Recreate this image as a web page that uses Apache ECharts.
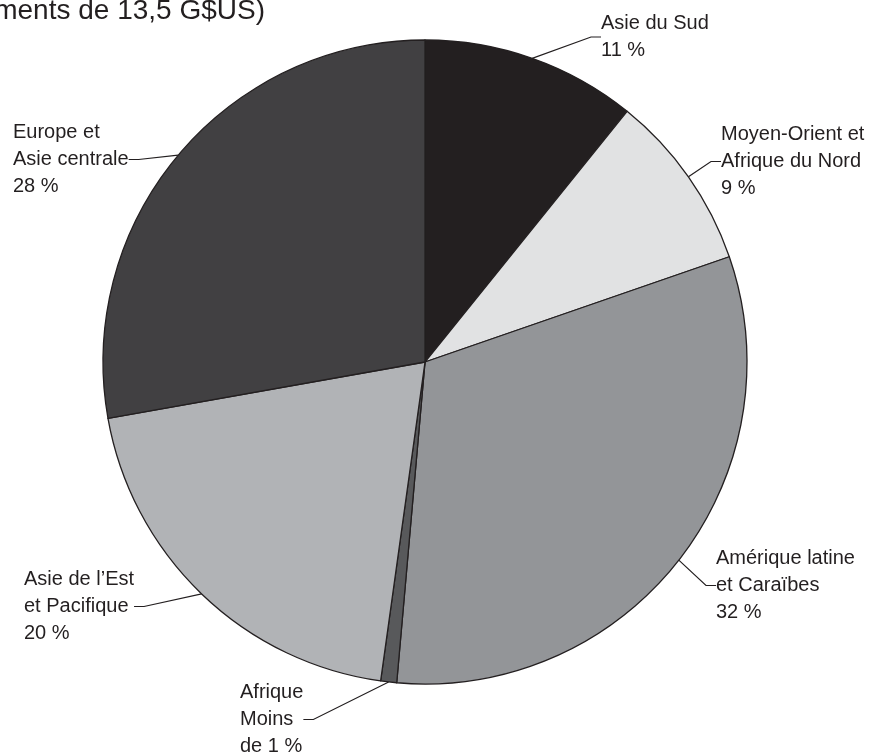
<!DOCTYPE html>
<html>
<head>
<meta charset="utf-8">
<script src="https://cdn.jsdelivr.net/npm/echarts@6/dist/echarts.min.js"></script>
<style>
html, body { margin: 0; padding: 0; background: #fff; }
#pie { width: 881px; height: 756px; }
</style>
</head>
<body>
<div id="pie"></div>
<script>
// régions, parts en % des engagements (clockwise from top)
let regions = ['Asie du Sud', 'Moyen-Orient et\nAfrique du Nord', 'Amérique latine\net Caraïbes', 'Afrique', 'Asie de l\u2019Est\net Pacifique', 'Europe et\nAsie centrale'];
let shares = [10.8, 8.9, 31.7, 0.8, 20.0, 27.8];
let shareLabels = ['11 %', '9 %', '32 %', 'Moins\nde 1 %', '20 %', '28 %'];
let sliceColors = ['#231f20', '#e1e2e3', '#939598', '#58595b', '#b1b3b6', '#414042'];
// label anchor (left, top) in px
let labelPos = [[601, 10], [721, 121], [716, 545], [240, 679], [24, 566], [13, 119]];

let chartDom = document.getElementById('pie');
let myChart = echarts.init(chartDom);

let seriesData = [];
for (let i = 0; i < regions.length; i++) {
    seriesData.push({
        name: regions[i],
        value: shares[i],
        itemStyle: { color: sliceColors[i] },
        label: { formatter: regions[i] + '\n' + shareLabels[i] }
    });
}

let option = {
    animation: false,
    title: {
        text: '(engagements de 13,5 G$US)',
        right: 611,
        top: -8,
        textStyle: {
            fontFamily: 'Liberation Sans, Arial, sans-serif',
            fontWeight: 'normal',
            fontSize: 28,
            color: '#231f20'
        }
    },
    series: [
        {
            type: 'pie',
            center: [425, 362],
            radius: 322,
            startAngle: 90,
            clockwise: true,
            data: seriesData,
            itemStyle: {
                borderColor: '#231f20',
                borderWidth: 1.3
            },
            label: {
                show: true,
                position: 'outside',
                color: '#231f20',
                fontFamily: 'Liberation Sans, Arial, sans-serif',
                fontSize: 20,
                lineHeight: 27,
                align: 'left'
            },
            labelLine: {
                show: true,
                length: 12,
                length2: 10,
                lineStyle: { color: '#231f20', width: 1.2 }
            },
            labelLayout: function (params) {
                let p = labelPos[params.dataIndex];
                return {
                    x: p[0],
                    y: p[1],
                    align: 'left',
                    verticalAlign: 'top'
                };
            }
        }
    ]
};

myChart.setOption(option);
</script>
</body>
</html>
